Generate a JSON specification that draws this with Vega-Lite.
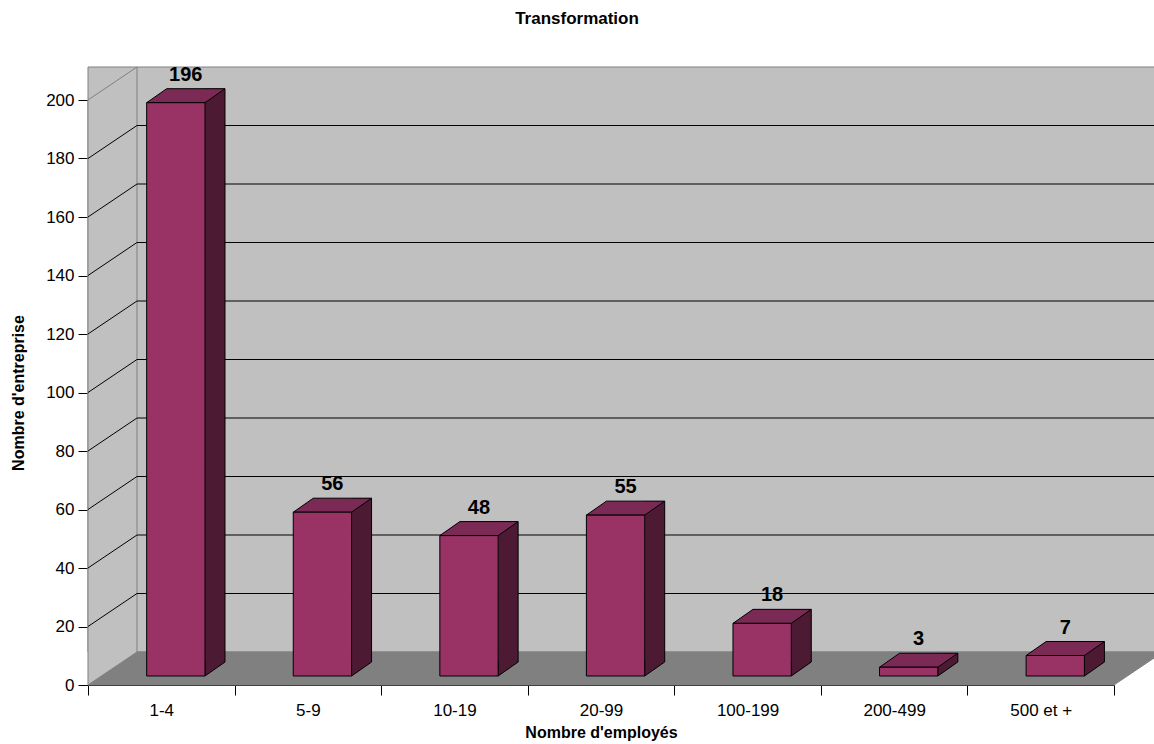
{
  "$schema": "https://vega.github.io/schema/vega-lite/v6.json",
  "width": 1026,
  "height": 585,
  "autosize": {"type": "none"},
  "padding": {"left": 88, "top": 100, "right": 40, "bottom": 59},
  "background": "white",
  "config": {
    "view": {"stroke": null},
    "font": "Liberation Sans",
    "axis": {"grid": false, "zindex": 1, "tickColor": "black", "domainColor": "black", "labelColor": "black", "titleColor": "black", "labelFont": "Liberation Sans", "titleFont": "Liberation Sans", "labelFontSize": 17, "titleFontSize": 16, "titleFontWeight": "bold", "tickSize": 10},
    "axisX": {"labelAngle": 0, "labelPadding": 7, "titlePadding": 6, "tickBand": "extent"},
    "axisY": {"labelPadding": 4, "titlePadding": 19}
  },
  "title": {"text": "Transformation", "fontSize": 17, "fontWeight": "bold", "font": "Liberation Sans", "anchor": "middle", "dx": -24, "offset": 37, "color": "black"},
  "datasets": {
    "bars": [
      {"cat": "1-4", "v": 196},
      {"cat": "5-9", "v": 56},
      {"cat": "10-19", "v": 48},
      {"cat": "20-99", "v": 55},
      {"cat": "100-199", "v": 18},
      {"cat": "200-499", "v": 3},
      {"cat": "500 et +", "v": 7}
    ],
    "grid": [{"g": 20}, {"g": 40}, {"g": 60}, {"g": 80}, {"g": 100}, {"g": 120}, {"g": 140}, {"g": 160}, {"g": 180}],
    "frame": [{"f": 0}]
  },
  "layer": [
    {
      "data": {"name": "frame"},
      "mark": {"type": "rect", "fill": "#c0c0c0", "stroke": "#808080", "strokeWidth": 1, "xOffset": 49, "x2Offset": 49, "yOffset": -33, "y2Offset": -33},
      "encoding": {
        "y": {"datum": 200, "type": "quantitative", "scale": {"domain": [0, 200], "nice": false}},
        "y2": {"datum": 0}
      }
    },
    {
      "data": {"name": "frame"},
      "mark": {"type": "point", "shape": "M-73.29,0 L952.71,0 L1001.71,-33 L-24.29,-33 Z", "size": 4, "filled": true, "fill": "#808080", "stroke": "#808080", "strokeWidth": 1, "opacity": 1},
      "encoding": {
        "x": {"datum": "1-4", "type": "nominal", "scale": {"domain": ["1-4", "5-9", "10-19", "20-99", "100-199", "200-499", "500 et +"], "paddingInner": 0, "paddingOuter": 0}},
        "y": {"datum": 0, "type": "quantitative", "scale": {"domain": [0, 200], "nice": false}}
      }
    },
    {
      "data": {"name": "frame"},
      "mark": {"type": "point", "shape": "M-73.29,0 L-24.29,-33 L-24.29,-618 L-73.29,-585 Z", "size": 4, "filled": true, "fill": "#c0c0c0", "stroke": "#808080", "strokeWidth": 1, "opacity": 1},
      "encoding": {
        "x": {"datum": "1-4", "type": "nominal", "scale": {"domain": ["1-4", "5-9", "10-19", "20-99", "100-199", "200-499", "500 et +"], "paddingInner": 0, "paddingOuter": 0}},
        "y": {"datum": 0, "type": "quantitative", "scale": {"domain": [0, 200], "nice": false}}
      }
    },
    {
      "data": {"name": "grid"},
      "mark": {"type": "point", "shape": "M-73.29,0 L-24.29,-33 L1001.71,-33", "size": 4, "filled": false, "fill": "transparent", "stroke": "black", "strokeWidth": 1, "opacity": 1},
      "encoding": {
        "x": {"datum": "1-4", "type": "nominal", "scale": {"domain": ["1-4", "5-9", "10-19", "20-99", "100-199", "200-499", "500 et +"], "paddingInner": 0, "paddingOuter": 0}},
        "y": {"field": "g", "type": "quantitative", "scale": {"domain": [0, 200], "nice": false}}
      }
    },
    {
      "data": {"name": "bars"},
      "mark": {"type": "bar", "size": 20, "xOffset": 53.7, "yOffset": -23, "y2Offset": -23, "fill": "#4d1a33", "strokeWidth": 0},
      "encoding": {
        "x": {"field": "cat", "type": "nominal", "scale": {"domain": ["1-4", "5-9", "10-19", "20-99", "100-199", "200-499", "500 et +"], "paddingInner": 0, "paddingOuter": 0}},
        "y": {"field": "v", "type": "quantitative", "scale": {"domain": [0, 200], "nice": false}},
        "y2": {"datum": 0}
      }
    },
    {
      "data": {"name": "bars"},
      "mark": {"type": "point", "shape": "M63.7,-23 L43.7,-9 L43.7,-23", "size": 4, "filled": true, "fill": "#4d1a33", "stroke": "black", "strokeWidth": 1, "opacity": 1},
      "encoding": {
        "x": {"field": "cat", "type": "nominal", "scale": {"domain": ["1-4", "5-9", "10-19", "20-99", "100-199", "200-499", "500 et +"], "paddingInner": 0, "paddingOuter": 0}},
        "y": {"datum": 0, "type": "quantitative", "scale": {"domain": [0, 200], "nice": false}}
      }
    },
    {
      "data": {"name": "bars"},
      "mark": {"type": "rule", "xOffset": 63.7, "yOffset": -23, "y2Offset": -23, "stroke": "black", "strokeWidth": 1},
      "encoding": {
        "x": {"field": "cat", "type": "nominal", "scale": {"domain": ["1-4", "5-9", "10-19", "20-99", "100-199", "200-499", "500 et +"], "paddingInner": 0, "paddingOuter": 0}},
        "y": {"field": "v", "type": "quantitative", "scale": {"domain": [0, 200], "nice": false}},
        "y2": {"datum": 0}
      }
    },
    {
      "data": {"name": "bars"},
      "mark": {"type": "point", "shape": "M-14.6,-9 L43.7,-9 L63.7,-23 L5.4,-23 Z", "size": 4, "filled": true, "fill": "#7a2a55", "stroke": "black", "strokeWidth": 1, "opacity": 1},
      "encoding": {
        "x": {"field": "cat", "type": "nominal", "scale": {"domain": ["1-4", "5-9", "10-19", "20-99", "100-199", "200-499", "500 et +"], "paddingInner": 0, "paddingOuter": 0}},
        "y": {"field": "v", "type": "quantitative", "scale": {"domain": [0, 200], "nice": false}}
      }
    },
    {
      "data": {"name": "bars"},
      "mark": {"type": "bar", "size": 58.3, "xOffset": 14.55, "yOffset": -9, "y2Offset": -9, "fill": "#993366", "stroke": "black", "strokeWidth": 1},
      "encoding": {
        "x": {
          "field": "cat", "type": "nominal",
          "scale": {"domain": ["1-4", "5-9", "10-19", "20-99", "100-199", "200-499", "500 et +"], "paddingInner": 0, "paddingOuter": 0},
          "axis": {"title": "Nombre d'employés"}
        },
        "y": {
          "field": "v", "type": "quantitative",
          "scale": {"domain": [0, 200], "nice": false},
          "axis": {"title": "Nombre d'entreprise", "values": [0, 20, 40, 60, 80, 100, 120, 140, 160, 180, 200]}
        },
        "y2": {"datum": 0}
      }
    },
    {
      "data": {"name": "bars"},
      "mark": {"type": "text", "dx": 24.5, "dy": -37, "font": "Liberation Sans", "fontSize": 20, "fontWeight": "bold", "color": "black", "baseline": "middle", "align": "center"},
      "encoding": {
        "x": {"field": "cat", "type": "nominal", "scale": {"domain": ["1-4", "5-9", "10-19", "20-99", "100-199", "200-499", "500 et +"], "paddingInner": 0, "paddingOuter": 0}},
        "y": {"field": "v", "type": "quantitative", "scale": {"domain": [0, 200], "nice": false}},
        "text": {"field": "v", "type": "quantitative"}
      }
    }
  ]
}
